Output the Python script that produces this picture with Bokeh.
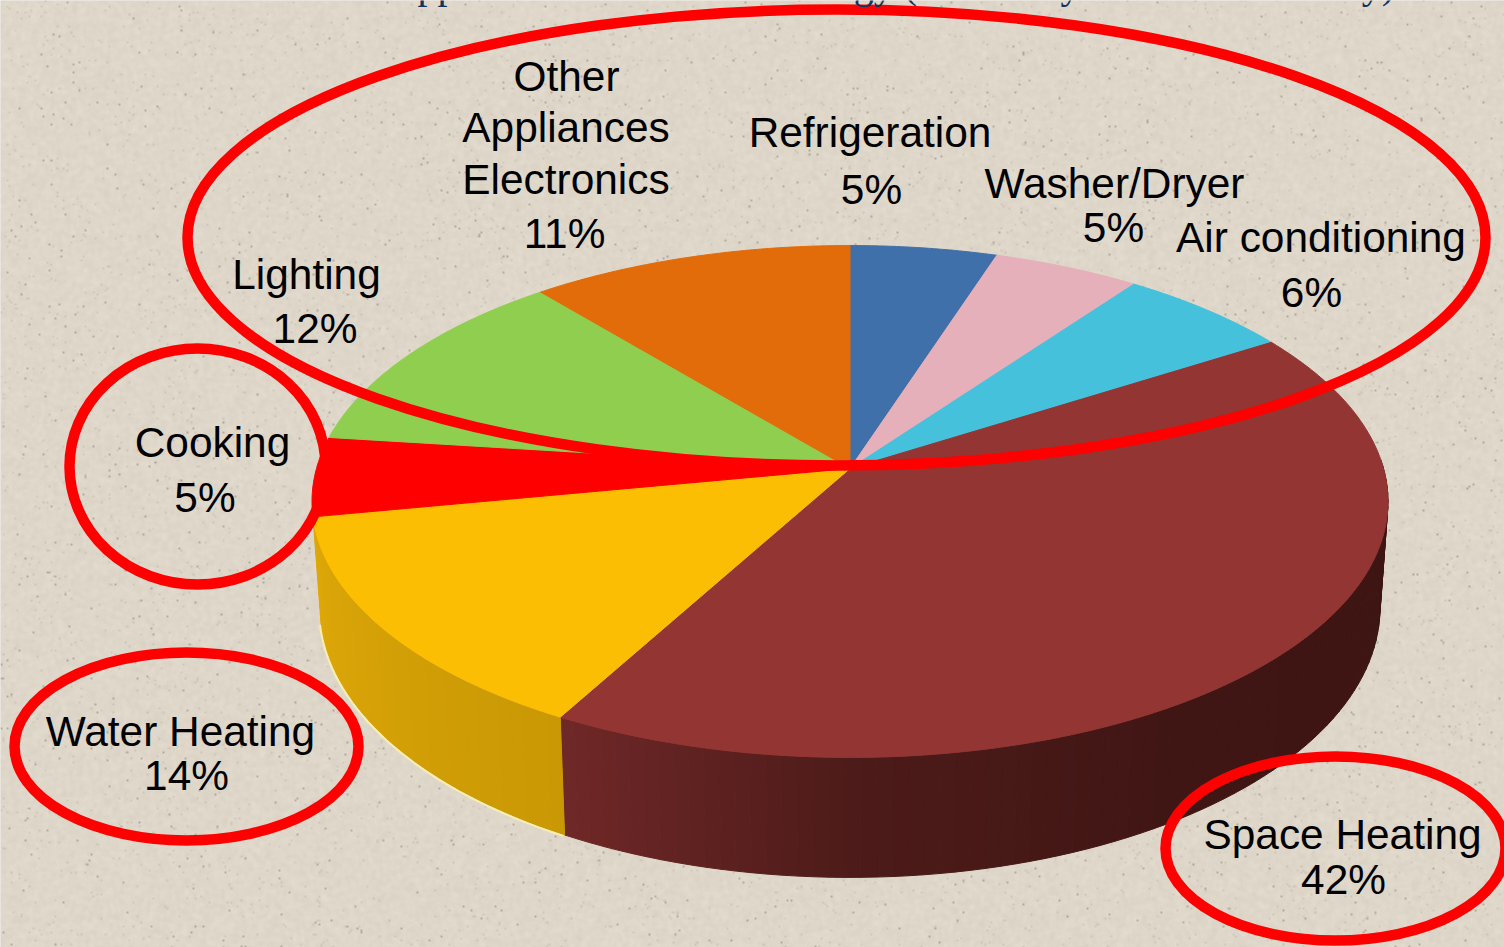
import numpy as np
from bokeh.core.properties import value
from bokeh.embed import file_html
from bokeh.models import Range1d
from bokeh.plotting import figure
from bokeh.resources import INLINE

# Share of household energy use, clockwise from twelve o'clock
categories = ["Refrigeration", "Washer/Dryer", "Air conditioning", "Space Heating",
              "Water Heating", "Cooking", "Lighting", "Other Appliances Electronics"]
shares = [5, 5, 6, 42, 14, 5, 12, 11]
top_colors = ["#4070aa", "#e6b0ba", "#45c1dc", "#933532",
              "#fcbe02", "#fe0000", "#8fce4f", "#e26b0a"]

W, H = 1504, 947

# Tilted disc: a circle seen in perspective, written in page pixels (y grows downward)
CX, CY = 849.5, 468.0
RX, RY, PERSP = 533.5, 251.7, 0.1289
DEPTH, BASE_SHRINK = 104.5, 0.985


def py(y):
    return H - np.asarray(y, dtype=float)


def rim(theta_deg):
    t = np.radians(theta_deg)
    u, v = np.sin(t), -np.cos(t)
    d = 1 - PERSP * v
    return CX + RX * u / d, CY + RY * v / d


def base_rim(theta_deg):
    t = np.radians(theta_deg)
    v = -np.cos(t)
    x, y = rim(theta_deg)
    return CX + (x - CX) * BASE_SHRINK, y + DEPTH / (1 - PERSP * v)


def mix(stops, f):
    f = min(max(f, 0.0), 1.0) * (len(stops) - 1)
    i = min(int(f), len(stops) - 2)
    g = f - i
    rgb = [round(stops[i][c] + (stops[i + 1][c] - stops[i][c]) * g) for c in range(3)]
    return "#%02x%02x%02x" % tuple(rgb)


def paper_grain():
    # Deterministic hash grain for the paper backdrop
    ys, xs = np.mgrid[0:H // 2 + 1, 0:W // 2 + 1]
    h = np.modf(np.sin(xs * 12.9898 + ys * 78.233) * 43758.5453)[0] % 1.0
    soft = (h + np.roll(h, 1, 0) + np.roll(h, 1, 1) + np.roll(h, -1, 0) + np.roll(h, -1, 1)) / 5
    h2 = np.modf(np.sin(xs * 39.346 + ys * 11.135) * 24634.6345)[0] % 1.0
    shade = (soft - 0.5) * 15 - 44 * (h2 > 0.995) - 16 * ((h2 > 0.98) & (h2 <= 0.995))
    shade = np.repeat(np.repeat(shade, 2, 0), 2, 1)[:H, :W]
    img = np.zeros((H, W), dtype=np.uint32)
    view = img.view(np.uint8).reshape((H, W, 4))
    view[..., 0] = np.clip(223 + shade, 0, 255)
    view[..., 1] = np.clip(215 + shade, 0, 255)
    view[..., 2] = np.clip(201 + shade, 0, 255)
    view[..., 3] = 255
    return img


p = figure(width=W, height=H, output_backend="svg", toolbar_location=None,
           x_range=Range1d(0, W), y_range=Range1d(0, H),
           x_axis_type=None, y_axis_type=None, min_border=0,
           outline_line_color=None, background_fill_color="#ded6c8")
p.grid.visible = False
p.image_rgba(image=[paper_grain()], x=0, y=0, dw=W, dh=H)

# Cumulative slice boundaries in degrees
edges = np.concatenate([[0], np.cumsum(shares)]) * 360.0 / sum(shares)
space_start, space_end = edges[3], edges[4]
water_end = edges[5]

# Outer wall, built of narrow strips so it can darken around the rim
BROWN_WALL = [(60, 20, 18), (62, 21, 18), (64, 22, 20), (76, 27, 25), (112, 40, 40)]
GOLD_WALL = [(201, 152, 4), (222, 168, 8)]
xs, ys, cols = [], [], []
for a, b, stops, lo, hi in [(88.0, space_end, BROWN_WALL, 88.0, space_end),
                            (space_end, water_end, GOLD_WALL, space_end, water_end)]:
    cuts = np.linspace(a, b, int((b - a) / 1.5) + 2)
    for t0, t1 in zip(cuts[:-1], cuts[1:]):
        x0, y0 = rim(t0)
        x1, y1 = rim(t1)
        x2, y2 = base_rim(t1)
        x3, y3 = base_rim(t0)
        xs.append([x0, x1, x2, x3])
        ys.append(list(py([y0, y1, y2, y3])))
        cols.append(mix(stops, (0.5 * (t0 + t1) - lo) / (hi - lo)))
p.patches(xs, ys, fill_color=cols, line_color=cols, line_width=1)

# Pale edge along the gold wall's foot
glow = np.linspace(space_end, water_end, 50)
gx, gy = base_rim(glow)
p.line(gx - 1, py(gy + 1), line_color="#f8eeb4", line_width=2)

# Top face of every slice
wx, wy = [], []
for t0, t1 in zip(edges[:-1], edges[1:]):
    arc = np.linspace(t0, t1, max(int(t1 - t0), 2) * 2)
    ax, ay = rim(arc)
    wx.append([CX] + list(ax))
    wy.append(list(py([CY] + list(ay))))
p.patches(wx, wy, fill_color=top_colors, line_color=top_colors, line_width=1)

# Red rings that pick out the groups of slices
ring_x = [836, 197, 186, 1335]
ring_y = [237, 466, 746, 848]
ring_w = [1298, 256, 344, 340]
ring_h = [456, 236, 188, 184]
p.ellipse(ring_x, py(ring_y), width=ring_w, height=ring_h, fill_color=None,
          line_color="#fe0000", line_width=10.5)

# Slice captions, one text per drawn line
caption_lines = [
    ("Other", 566, 76), ("Appliances", 565.5, 127), ("Electronics", 565.5, 179),
    (f"{shares[7]}%", 564, 233),
    ("Refrigeration", 869.5, 132), (f"{shares[0]}%", 871, 189),
    ("Washer/Dryer", 1114, 183), (f"{shares[1]}%", 1113, 227),
    ("Air conditioning", 1320.5, 237), (f"{shares[2]}%", 1311, 292),
    ("Lighting", 306, 273.5), (f"{shares[6]}%", 314.5, 328),
    ("Cooking", 212, 442), (f"{shares[5]}%", 204.5, 497),
    ("Water Heating", 180, 731), (f"{shares[4]}%", 186, 775),
    ("Space Heating", 1342, 834), (f"{shares[3]}%", 1343, 879),
]
p.text([c[1] for c in caption_lines], py([c[2] for c in caption_lines]),
       text=[c[0] for c in caption_lines], text_align="center", text_baseline="middle",
       text_font=value("Liberation Sans"), text_font_size="42.4px", text_color="#000000")

# Heading that runs off the top edge of the slide
heading_parts = [("pp", 437), ("gy (", 885), ("y", 1070), ("y)", 1378)]
p.text([c[1] for c in heading_parts], py([-16] * len(heading_parts)),
       text=[c[0] for c in heading_parts], text_align="center", text_baseline="alphabetic",
       text_font=value("Liberation Serif"), text_font_size="40px", text_color="#0f3460")

open("out.html", "w").write(file_html(p, INLINE))
